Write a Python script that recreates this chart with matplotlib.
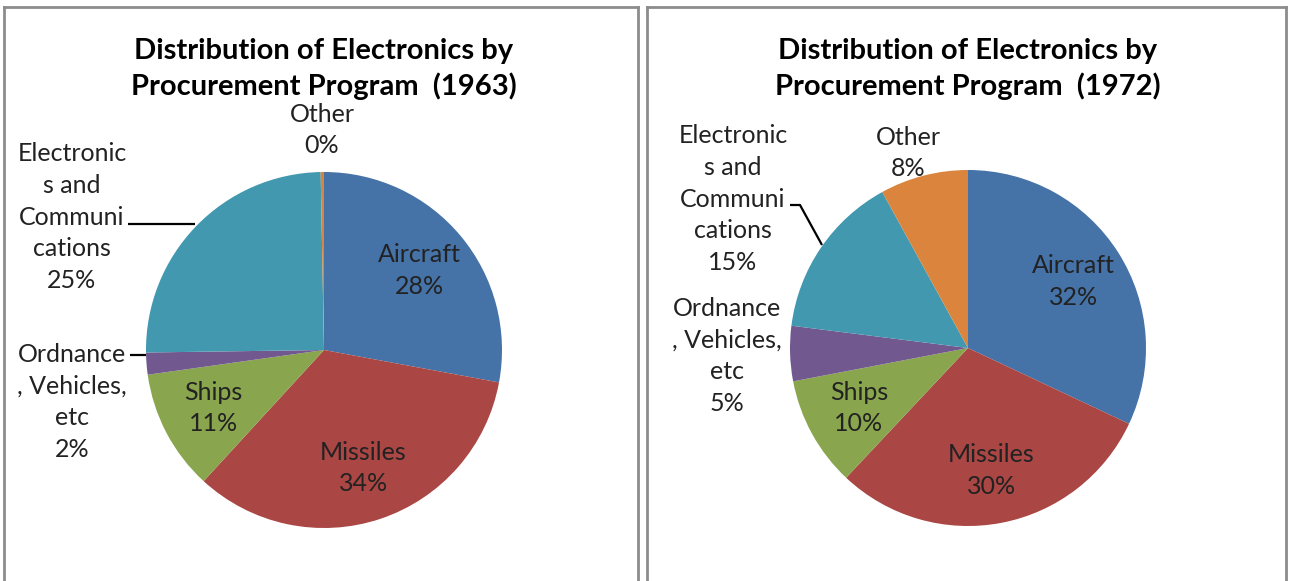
import numpy as np
import matplotlib
matplotlib.use("Agg")
import matplotlib.pyplot as plt

plt.rcParams["font.family"] = ["Lato", "DejaVu Sans"]

categories = ["Aircraft", "Missiles", "Ships", "Ordnance\n, Vehicles,\netc",
              "Electronic\ns and\nCommuni\ncations", "Other"]
share_1963 = [28, 34, 11, 2, 25, 0.3]
share_1972 = [32, 30, 10, 5, 15, 8]
years = ["1963", "1972"]

colors = ["#4572A7", "#AA4643", "#89A54E", "#71588F", "#4198AF", "#DB843D"]

W, H = 1291, 581
R = 178  # pie radius in pixels

fig = plt.figure(figsize=(W / 100, H / 100), dpi=100)

# panel box (px) and pie centre (px)
panels = [
    dict(box=(4, 7, 638), centre=(324, 350)),
    dict(box=(647, 7, 1286), centre=(968, 348)),
]

# outside-label placement, offsets from pie centre in px (y up)
outside = [
    {3: (-252, -52), 4: (-252, 133), 5: (-2, 220)},
    {3: (-241, -8), 4: (-235, 149), 5: (-60, 195)},
]
leaders = [
    {3: [(-194, -5), (-178, -5)], 4: [(-196, 126), (-129, 126)]},
    {3: None, 4: [(-178, 143), (-168, 143), (-146, 103)]},
]

for i, (vals, year) in enumerate(zip([share_1963, share_1972], years)):
    p = panels[i]
    x0, y0, x1 = p["box"]
    cx, cy = p["centre"]
    ax = fig.add_axes([x0 / W, -0.02, (x1 - x0) / W, (H - y0) / H + 0.02])
    wedges, _ = ax.pie(vals, colors=colors, startangle=90, counterclock=False,
                       radius=R, center=(0, 0))
    ax.set_xlim(x0 - cx, x1 - cx)
    ax.set_ylim(-(H - cy) - 0.02 * H, cy - y0)
    ax.set_aspect("auto")
    ax.set_frame_on(True)
    for side in ["left", "right", "top"]:
        ax.spines[side].set_color("#8c8c8c")
        ax.spines[side].set_linewidth(2)
    ax.spines["bottom"].set_visible(False)
    ax.set_xticks([])
    ax.set_yticks([])

    total = sum(vals)
    for k, w in enumerate(wedges):
        pct = "%d%%" % round(vals[k] / total * 100)
        label = categories[k] + "\n" + pct
        if k in outside[i]:
            dx, dy = outside[i][k]
            ax.text(dx, dy, label, ha="center", va="center", fontsize=18,
                    linespacing=1.45, color="#222222")
            pts = leaders[i].get(k)
            if pts:
                xs, ys = zip(*pts)
                ax.plot(xs, ys, color="black", lw=1.6, solid_capstyle="butt")
        else:
            mid = np.deg2rad((w.theta1 + w.theta2) / 2)
            rr = 0.7 * R
            ax.text(rr * np.cos(mid), rr * np.sin(mid), label, ha="center",
                    va="center", fontsize=18, linespacing=1.45, color="#222222")

    ax.text(0, cy - 69, "Distribution of Electronics by\nProcurement Program  (%s)" % year,
            ha="center", va="center", fontsize=21, fontweight="bold",
            linespacing=1.35, color="black")

fig.savefig("out.png", dpi=100)
